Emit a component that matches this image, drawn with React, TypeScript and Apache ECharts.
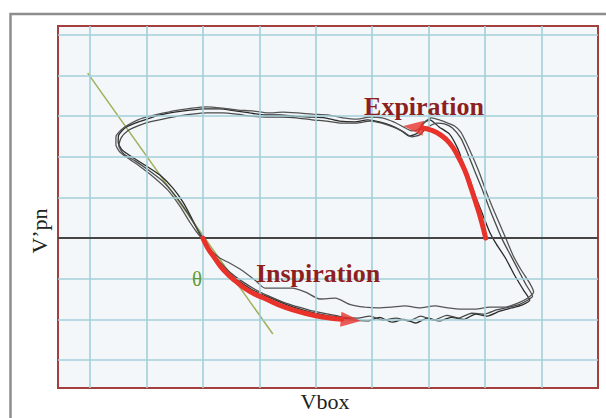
import React, { useEffect, useRef } from "react";
import * as echarts from "echarts";

// Grid positions (axis units, one unit per grid cell)
const xGridValues = [1, 2, 3, 4, 5, 6, 7, 8, 9];
const yGridValues = [-3, -2, -1, 1, 2, 3, 4, 5];
const zeroLineValue = 0;

// Three breathing loops [Vbox, V'pn]
const loopA: number[][] = [
  [2.98, 0], [3.11, -0.27], [3.25, -0.57], [3.42, -0.81], [3.64, -1.06], [3.86, -1.26], [4.12, -1.43], [4.38, -1.58],
  [4.65, -1.72], [4.91, -1.82], [5.18, -1.9], [5.44, -1.95], [5.69, -2.02], [5.92, -2.04], [6.13, -1.95], [6.35, -2.07],
  [6.56, -2.0], [6.77, -2.09], [6.98, -1.97], [7.19, -2.04], [7.4, -1.95], [7.62, -2.0], [7.83, -1.87], [8.04, -1.92],
  [8.26, -1.8], [8.47, -1.72], [8.65, -1.65], [8.79, -1.53],
  [8.68, -1.28], [8.52, -0.91], [8.36, -0.49], [8.2, -0.15], [8.08, 0.15], [7.96, 0.57], [7.83, 1.03], [7.73, 1.43],
  [7.62, 1.82], [7.51, 2.22], [7.37, 2.56], [7.19, 2.73], [7.02, 2.91], [6.89, 2.81], [6.81, 2.59], [6.66, 2.51],
  [6.52, 2.64], [6.35, 2.76], [6.13, 2.86], [5.92, 2.91], [5.69, 2.86], [5.42, 2.88], [5.16, 2.96], [4.89, 2.98],
  [4.63, 3.0], [4.36, 3.03], [4.1, 3.03], [3.83, 3.08], [3.57, 3.13], [3.3, 3.18], [3.04, 3.18], [2.77, 3.15],
  [2.5, 3.1], [2.24, 3.03], [2.01, 2.93], [1.8, 2.83], [1.62, 2.71], [1.51, 2.54], [1.5, 2.36], [1.57, 2.17],
  [1.74, 2.0], [1.97, 1.8], [2.24, 1.55], [2.47, 1.23], [2.66, 0.86], [2.82, 0.44], [2.98, 0],
];
const loopB: number[][] = [
  [3.0, 0], [3.14, -0.3], [3.3, -0.59], [3.48, -0.84], [3.69, -1.06], [3.92, -1.26], [4.17, -1.43], [4.43, -1.58],
  [4.7, -1.7], [4.96, -1.8], [5.23, -1.87], [5.5, -1.95], [5.74, -1.97], [5.96, -1.92], [6.19, -2.02], [6.42, -1.97],
  [6.65, -2.04], [6.86, -1.92], [7.09, -2.02], [7.32, -1.9], [7.53, -1.97], [7.76, -1.85], [7.99, -1.87], [8.2, -1.77],
  [8.42, -1.7], [8.61, -1.63], [8.75, -1.53], [8.84, -1.43],
  [8.73, -1.16], [8.59, -0.79], [8.45, -0.42], [8.31, -0.05], [8.19, 0.34], [8.06, 0.79], [7.94, 1.23], [7.81, 1.67],
  [7.69, 2.09], [7.57, 2.46], [7.42, 2.71], [7.28, 2.81], [7.14, 2.83], [6.98, 2.73], [6.84, 2.54], [6.7, 2.49],
  [6.56, 2.61], [6.38, 2.73], [6.17, 2.83], [5.96, 2.88], [5.71, 2.83], [5.46, 2.83], [5.19, 2.88], [4.93, 2.91],
  [4.66, 2.96], [4.4, 2.98], [4.13, 2.98], [3.86, 3.0], [3.6, 3.05], [3.34, 3.08], [3.07, 3.08], [2.81, 3.05],
  [2.56, 3.0], [2.29, 2.93], [2.06, 2.86], [1.85, 2.76], [1.67, 2.64], [1.55, 2.46], [1.51, 2.27], [1.6, 2.07],
  [1.8, 1.9], [2.04, 1.67], [2.29, 1.4], [2.52, 1.03], [2.72, 0.64], [2.88, 0.27], [3.0, 0],
];
const loopC: number[][] = [
  [2.98, 0], [3.12, -0.27], [3.3, -0.49], [3.48, -0.62], [3.69, -0.79], [3.92, -1.03], [4.1, -1.23], [4.33, -1.23],
  [4.58, -1.23], [4.82, -1.33], [5.07, -1.5], [5.35, -1.48], [5.6, -1.63], [5.87, -1.7], [6.1, -1.72], [6.35, -1.7],
  [6.58, -1.67], [6.84, -1.72], [7.11, -1.67], [7.34, -1.72], [7.58, -1.75], [7.83, -1.75], [8.08, -1.7], [8.35, -1.7],
  [8.58, -1.6], [8.75, -1.48], [8.86, -1.33],
  [8.79, -1.11], [8.65, -0.81], [8.5, -0.44], [8.38, -0.05], [8.26, 0.34], [8.13, 0.76], [8.01, 1.18], [7.9, 1.6],
  [7.78, 2.0], [7.67, 2.34], [7.57, 2.61], [7.46, 2.76], [7.34, 2.83], [7.19, 2.91], [7.05, 2.96], [6.95, 2.88],
  [6.82, 2.68], [6.7, 2.64], [6.56, 2.73], [6.38, 2.86], [6.17, 2.96], [5.96, 2.98], [5.73, 2.93], [5.48, 2.96],
  [5.21, 3.03], [4.95, 3.05], [4.68, 3.08], [4.42, 3.1], [4.15, 3.08], [3.88, 3.13], [3.62, 3.15], [3.34, 3.2],
  [3.07, 3.23], [2.81, 3.2], [2.56, 3.15], [2.31, 3.08], [2.06, 3.0], [1.85, 2.91], [1.67, 2.78], [1.55, 2.66],
  [1.46, 2.49], [1.46, 2.29], [1.53, 2.12], [1.67, 1.97], [1.88, 1.77], [2.13, 1.5], [2.38, 1.18], [2.59, 0.79],
  [2.77, 0.39], [2.89, 0.15], [2.98, 0],
];

// Tangent line (angle theta)
const tangentLine: number[][] = [[0.96, 4.06], [4.24, -2.36]];

// Annotation arrows
const inspirationArrow: number[][] = [
  [3.0, 0], [3.09, -0.25], [3.21, -0.49], [3.37, -0.79], [3.58, -1.06], [3.83, -1.31], [4.12, -1.5], [4.45, -1.7],
  [4.81, -1.85], [5.16, -1.95], [5.46, -2.0],
];
const inspirationHead: number[] = [5.62, -2.02];
const expirationArrow: number[][] = [
  [8.01, 0], [7.94, 0.39], [7.85, 0.81], [7.74, 1.28], [7.64, 1.67], [7.51, 2.04], [7.37, 2.34], [7.21, 2.54],
  [7.04, 2.66], [6.88, 2.71],
];
const expirationHead: number[] = [6.73, 2.73];

const serif = '"Liberation Serif", "Times New Roman", serif';

export default function App() {
  const ref = useRef<HTMLDivElement>(null);

  useEffect(() => {
    if (!ref.current) return;
    const chart = echarts.init(ref.current, undefined, { renderer: "svg" });
    const gridColor = "#a3cfd8";
    const loopStyle = (c: string) => ({
      type: "line",
      data: c === "a" ? loopA : c === "b" ? loopB : loopC,
      showSymbol: false,
      symbol: "none",
      smooth: 0.2,
      z: 3,
      lineStyle: { color: c === "a" ? "#2b2b2b" : c === "b" ? "#4a4a4a" : "#555", width: 1.3 },
      silent: true,
    });
    chart.setOption({
      animation: false,
      grid: {
        left: 58,
        right: 8,
        top: 26,
        bottom: 30,
        show: true,
        backgroundColor: "#f3f7f9",
        borderColor: "#a3403f",
        borderWidth: 2,
      },
      xAxis: { type: "value", min: 0.434, max: 10, show: false },
      yAxis: { type: "value", min: -3.69, max: 5.22, show: false },
      series: [
        {
          type: "line",
          data: tangentLine,
          symbol: "none",
          z: 2,
          silent: true,
          lineStyle: { color: "#9fb05a", width: 1.5 },
          markLine: {
            silent: true,
            symbol: ["none", "none"],
            label: { show: false },
            lineStyle: { color: gridColor, width: 1.6, type: "solid" },
            data: [
              ...xGridValues.map((v) => ({ xAxis: v })),
              ...yGridValues.map((v) => ({ yAxis: v })),
              { yAxis: zeroLineValue, lineStyle: { color: "#454545", width: 2, type: "solid" } },
            ],
          },
        },
        loopStyle("a"),
        loopStyle("b"),
        loopStyle("c"),
        {
          type: "line",
          data: inspirationArrow,
          symbol: "none",
          smooth: true,
          z: 5,
          silent: true,
          lineStyle: { color: "#e8322a", width: 5, cap: "round" },
        },
        {
          type: "line",
          data: expirationArrow,
          symbol: "none",
          smooth: true,
          z: 5,
          silent: true,
          lineStyle: { color: "#e8322a", width: 5, cap: "round" },
        },
        {
          type: "scatter",
          z: 6,
          silent: true,
          data: [
            { value: inspirationHead, symbolRotate: -95 },
            { value: expirationHead, symbolRotate: 84 },
          ],
          symbol: "triangle",
          symbolSize: [15, 20],
          itemStyle: { color: "#e8322a" },
        },
      ],
      graphic: [
        {
          type: "rect",
          z: 100,
          silent: true,
          shape: { x: 10.5, y: 14, width: 700, height: 600 },
          style: { fill: "none", stroke: "#8d8d8d", lineWidth: 2.5 },
        },
        {
          type: "text",
          z: 100,
          x: 424,
          y: 106,
          style: {
            text: "Expiration",
            font: `bold 26px ${serif}`,
            fill: "#8e1f1f",
            align: "center",
            verticalAlign: "middle",
          },
        },
        {
          type: "text",
          z: 100,
          x: 318,
          y: 273,
          style: {
            text: "Inspiration",
            font: `bold 26px ${serif}`,
            fill: "#8e1f1f",
            align: "center",
            verticalAlign: "middle",
          },
        },
        {
          type: "text",
          z: 100,
          x: 197,
          y: 279,
          style: {
            text: "θ",
            font: `21px ${serif}`,
            fill: "#5f9a2c",
            align: "center",
            verticalAlign: "middle",
          },
        },
        {
          type: "text",
          z: 100,
          x: 39,
          y: 231,
          rotation: Math.PI / 2,
          style: {
            text: "V’pn",
            font: `22px ${serif}`,
            fill: "#222",
            align: "center",
            verticalAlign: "middle",
          },
        },
        {
          type: "text",
          z: 100,
          x: 325,
          y: 401,
          style: {
            text: "Vbox",
            font: `22px ${serif}`,
            fill: "#222",
            align: "center",
            verticalAlign: "middle",
          },
        },
      ],
    });
    return () => chart.dispose();
  }, []);

  return (
    <div
      ref={ref}
      style={{ position: "fixed", left: 0, top: 0, width: 606, height: 418, background: "#ffffff" }}
    />
  );
}
